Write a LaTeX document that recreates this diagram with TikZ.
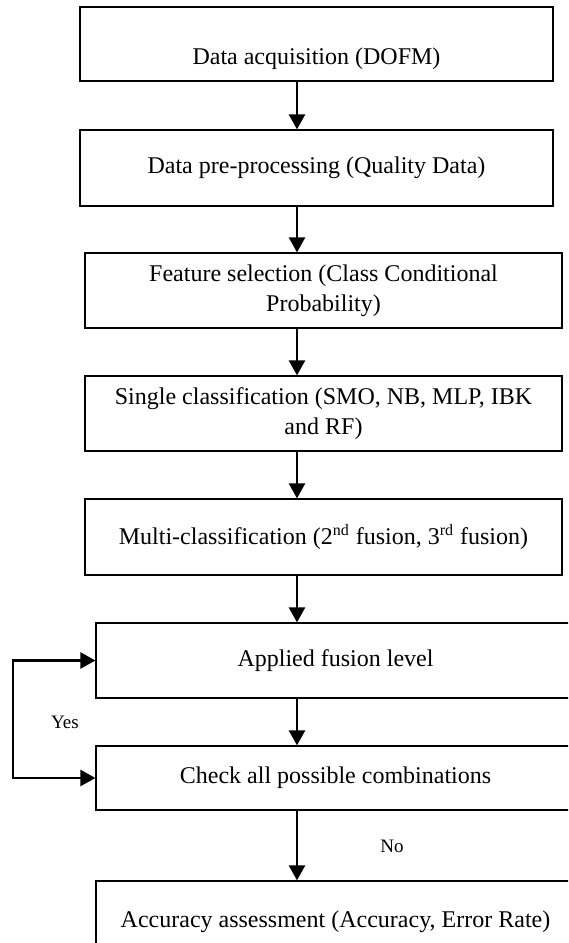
\documentclass[tikz,border=0pt]{standalone}
\usepackage{fontspec}
\setmainfont{Liberation Serif}
\usetikzlibrary{arrows.meta}

\begin{document}
\begin{tikzpicture}[x=0.5pt, y=-0.5pt,
  every node/.style={font=\fontsize{12}{15}\selectfont},
  stage/.style={rectangle, draw=black, line width=0.6pt, align=center, inner sep=0pt},
  wide/.style={minimum width=236.5pt},
  wider/.style={minimum width=238.5pt},
  widest/.style={minimum width=239.5pt},
  note/.style={font=\fontsize{9.5}{11}\selectfont},
  link/.style={-{Triangle[length=7.5pt,width=8pt]}, line width=1.2pt}]

\clip (0,0) rectangle (568,943);

\node[stage, wide, minimum height=37pt, text height=20pt, text depth=0pt] (acq) at (316.5,44) {Data acquisition (DOFM)};
\node[stage, wide, minimum height=38pt]   (pre) at (316.5,168)   {Data pre-processing (Quality Data)};
\node[stage, wider, minimum height=37.5pt] (fea) at (323.5,290.5) {Feature selection (Class Conditional\\Probability)};
\node[stage, wider, minimum height=37.5pt] (sgl) at (323.5,413.5) {Single classification (SMO, NB, MLP, IBK\\and RF)};
\node[stage, wider, minimum height=38pt]   (mlt) at (323.5,537)   {Multi-classification (2\textsuperscript{nd} fusion, 3\textsuperscript{rd} fusion)};
\node[stage, widest, minimum height=37.5pt] (fus) at (335.5,660.5) {Applied fusion level};
\node[stage, widest, minimum height=32pt]  (chk) at (335.5,778)   {Check all possible combinations};
\node[stage, widest, minimum height=41pt]  (acc) at (335.5,922)   {Accuracy assessment (Accuracy, Error Rate)};

\node[note] (yes) at (65,722)  {Yes};
\node[note] (no)  at (392,846) {No};

\coordinate (spine) at (297,0);
\coordinate (loop)  at (13,718);

\draw[link] (acq.south -| spine) -- (pre.north -| spine);
\draw[link] (pre.south -| spine) -- (fea.north -| spine);
\draw[link] (fea.south -| spine) -- (sgl.north -| spine);
\draw[link] (sgl.south -| spine) -- (mlt.north -| spine);
\draw[link] (mlt.south -| spine) -- (fus.north -| spine);
\draw[link] (fus.south -| spine) -- (chk.north -| spine);
\draw[link] (chk.south -| spine) -- (acc.north -| spine);

\draw[link] (loop) |- (fus.west);
\draw[link] (loop) |- (chk.west);
\end{tikzpicture}
\end{document}
